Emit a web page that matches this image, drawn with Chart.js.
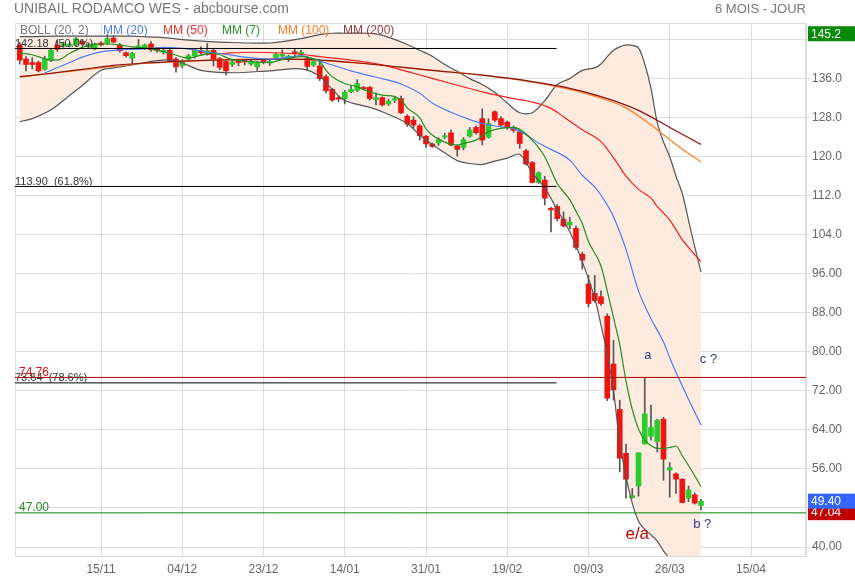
<!DOCTYPE html>
<html lang="fr">
<head>
  <meta charset="UTF-8" />
  <title>UNIBAIL RODAMCO WES - abcbourse.com</title>
  <script src="https://cdn.jsdelivr.net/npm/chart.js"></script>
  <style>
    body { margin: 0; background: #fff; font-family: "Liberation Sans", Arial, sans-serif; }
    #wrap { position: relative; width: 855px; height: 580px; }
    #title { position: absolute; left: 14px; top: 0; font-size: 14px; line-height: 17px; color: #777; }
    #period { position: absolute; right: 49px; top: 1px; font-size: 13px; line-height: 16px; color: #777; }
    canvas { position: absolute; left: 0; top: 0; }
  </style>
</head>
<body>
  <div id="wrap">
    <canvas id="chart" width="855" height="580"></canvas>
    <div id="title">UNIBAIL RODAMCO WES - abcbourse.com</div>
    <div id="period">6 MOIS - JOUR</div>
  </div>

  <script>
    // bougies journalières, index 0 = 29/10
    const opens = [142.9,140.0,139.3,139.3,137.9,139.8,142.9,142.7,142.8,142.9,
      143.6,142.5,142.1,143.3,143.2,144.3,142.9,141.3,140.2,142.2,
      142.3,143.1,142.1,141.4,141.8,140.0,138.6,140.0,140.6,141.7,
      141.1,141.8,140.1,139.5,138.9,139.4,139.5,139.0,138.4,139.6,
      139.2,140.2,140.6,139.9,141.3,140.9,140.1,138.8,138.6,136.4,
      133.8,131.9,131.9,133.3,133.6,134.2,134.2,131.7,132.1,130.8,
      131.6,131.9,128.3,127.5,126.3,124.2,122.6,122.8,124.0,124.9,
      122.2,121.9,124.2,126.0,127.8,124.0,129.2,127.8,127.1,126.0,
      125.1,121.2,118.8,114.7,115.2,109.4,109.8,107.2,106.0,105.3,
      100.0,93.9,92.0,91.3,87.3,77.5,68.2,59.2,50.1,52.5,
      61.1,62.7,61.6,66.2,55.8,55.0,53.9,50.0,50.7,48.5];
    const highs = [143.4,140.5,140.3,139.6,140.6,142.1,143.8,143.5,143.4,144.4,
      144.0,143.3,143.3,143.6,145.0,144.8,143.2,141.5,141.4,144.0,
      143.1,143.6,142.4,142.0,142.0,140.3,139.9,141.0,142.0,142.5,
      143.2,142.0,140.3,139.8,139.9,139.8,139.8,139.9,139.5,139.9,
      139.8,141.3,141.9,140.8,142.0,141.8,140.5,139.8,139.8,136.8,
      134.0,132.4,133.6,134.4,135.8,134.4,134.4,133.1,132.3,131.8,
      132.4,132.4,128.6,128.2,126.6,124.4,122.8,123.9,124.8,125.5,
      122.4,123.9,126.0,126.3,129.8,127.8,129.4,128.2,127.3,126.3,
      125.4,121.5,119.0,116.9,116.0,109.6,110.2,108.7,107.6,105.8,
      100.4,95.7,95.7,92.5,87.8,82.4,70.1,61.1,52.0,59.3,
      74.8,69.1,66.2,66.6,57.3,55.2,54.0,52.5,51.1,49.8];
    const lows = [139.0,137.6,138.0,137.4,137.7,139.5,141.6,142.4,142.5,142.7,
      142.8,142.2,141.9,142.7,143.0,143.3,141.4,140.4,139.0,142.0,
      142.0,141.6,141.4,141.0,139.4,137.3,138.2,139.8,140.2,141.0,
      140.8,138.6,137.8,136.7,138.5,138.6,138.8,138.7,137.7,139.0,
      138.7,140.0,140.4,139.5,140.5,140.6,137.7,138.5,135.6,133.0,
      131.3,131.3,130.8,133.1,133.3,133.7,131.6,130.6,130.4,130.5,
      131.1,128.8,126.2,125.8,123.4,121.9,121.9,122.3,123.7,122.2,
      120.1,121.4,124.0,124.6,122.4,123.8,127.2,126.3,125.6,125.0,
      121.7,118.3,114.6,114.5,110.1,104.6,106.8,105.6,105.2,101.0,
      97.0,89.2,90.2,89.5,70.0,70.1,55.4,50.0,50.0,50.4,
      61.1,61.9,59.5,53.7,50.2,51.0,49.1,49.3,48.8,47.6];
    const closes = [139.8,138.9,138.9,137.6,140.1,141.8,142.0,143.2,143.1,144.2,
      143.1,142.9,143.1,142.9,144.2,143.5,141.7,140.7,141.2,142.7,
      142.9,141.9,141.7,141.8,139.7,138.4,139.6,140.7,141.8,141.3,
      141.7,140.0,138.3,137.6,139.4,139.3,139.4,139.5,139.3,139.5,
      139.5,141.0,141.0,140.6,141.2,141.4,138.5,139.5,136.0,133.5,
      131.6,131.8,133.2,133.8,135.0,133.9,131.9,132.1,130.6,131.4,
      131.9,129.0,126.7,126.5,124.3,122.6,122.1,123.5,124.3,122.4,
      121.5,123.5,125.5,124.9,123.4,126.8,127.5,126.5,126.0,125.4,
      122.7,118.5,114.7,116.7,111.5,109.1,107.3,105.8,106.6,101.4,
      98.8,89.9,90.5,89.9,70.5,72.2,58.2,53.9,50.5,59.3,
      67.3,64.5,66.0,58.0,56.3,53.9,49.1,51.7,49.0,49.4];

    // bandes de Bollinger (20, 2)
    const bollIdx = [0,2,5,8,10,13,15,18,20,22,24,26,29,34,40,45,48,50,52,56,58,62,64,66,68,70,72,74,76,78,80,82,84,86,88,90,92,93,94,95,96,97,98,99,100,101,102,103,104,105,106,107,108,109];
    const bollUpper = [144.6,144.6,144.7,144.7,144.7,144.7,144.7,144.7,144.6,144.5,144.3,144.0,143.7,143.4,143.3,144.2,145.0,145.3,145.3,145.3,144.9,143.0,141.8,140.6,138.9,137.5,136.0,134.8,133.2,131.0,129.0,129.0,131.5,134.8,136.0,137.7,138.2,139.0,140.5,141.8,142.5,142.9,142.8,142.3,139.0,134.0,127.0,123.0,120.0,116.0,112.5,107.0,101.5,96.4];
    const bollLower = [127.2,127.8,129.6,132.6,134.6,137.7,138.2,138.8,139.3,139.7,139.8,139.2,137.7,137.2,137.6,138.0,136.5,133.8,131.5,130.1,129.2,126.8,124.4,122.5,120.8,119.2,118.6,118.4,119.1,119.7,120.5,116.7,113.6,109.1,104.6,98.5,91.0,85.5,79.5,72.0,61.5,54.5,49.0,45.3,43.6,42.5,41.2,39.2,37.5,35.8,34.2,32.8,31.5,30.3];

    // moyennes mobiles
    const mm7Idx = [0,2,5,6,8,10,12,14,16,18,21,24,27,29,31,34,37,40,42,45,47,48,49,50,52,54,56,58,60,61,62,64,65,67,70,71,73,75,77,79,80,82,84,86,88,89,90,91,93,94,95,96,97,98,99,100,101,102,103,104,105,106,107,108,109];
    const mm7 = [141.3,140.9,139.8,139.8,141.2,142.4,143.1,143.1,142.9,142.5,142.1,141.2,140.2,140.8,141.2,139.9,139.5,139.3,139.9,140.5,140.1,139.5,137.7,136.4,135.0,134.3,133.3,132.6,132.3,131.6,130.0,128.0,125.7,123.6,122.4,122.7,123.4,125.1,125.8,126.0,125.6,123.4,120.0,114.5,111.2,108.8,106.3,102.6,97.6,92.5,87.0,81.5,74.0,68.2,64.2,61.9,60.8,60.2,60.2,60.4,60.7,58.7,56.7,54.6,52.4];
    const mm20Idx = [4,5,8,10,13,16,18,21,23,26,29,31,34,36,40,43,45,47,50,53,56,58,61,64,66,69,72,74,77,79,81,83,85,88,90,92,93,95,97,99,101,103,104,105,107,109];
    const mm20 = [137.2,137.7,139.3,140.4,141.5,141.9,142.0,142.2,142.4,142.2,141.7,141.3,140.8,140.4,140.0,140.4,140.7,140.0,138.8,137.6,136.6,136.0,134.9,133.0,131.0,129.1,127.6,126.8,126.1,125.8,124.5,122.8,121.5,119.3,116.2,113.8,112.1,107.7,101.0,92.5,86.8,82.0,78.8,75.8,70.3,65.0];
    const mm50Idx = [29,33,37,41,45,48,53,58,63,69,74,79,82,85,87,90,93,95,97,99,101,102,104,106,109];
    const mm50 = [140.9,141.2,141.4,141.3,141.0,140.5,139.8,138.8,137.1,135.0,133.3,131.9,131.2,129.9,128.2,125.5,123.1,119.8,116.0,113.3,111.5,109.8,107.0,103.0,98.5];
    const mm100Idx = [0,10,20,31,42,55,66,74,82,88,93,97,101,105,109];
    const mm100 = [136.3,137.8,139.1,139.8,140.0,139.1,137.7,136.7,135.3,133.8,132.0,130.0,126.5,122.5,118.9];
    const mm200Idx = [0,5,10,15,20,26,31,37,42,47,55,66,74,82,87,93,99,104,109];
    const mm200 = [136.4,137.1,137.9,138.7,139.2,139.6,139.8,139.9,140.0,139.9,139.1,137.7,136.7,135.4,134.3,132.3,129.5,126.0,122.5];

    // niveaux tracés
    const fibLevels = [142.18, 113.90, 73.64];
    const fibTexts = ['142.18  (50.0%)', '113.90  (61.8%)', '73.64  (78.6%)'];
    const supportLevels = [74.76, 47.00];
    const supportTexts = ['74.76', '47.00'];
    const priceTags = [145.2, 47.04, 49.40];
    const priceTagTexts = ['145.2', '47.04', '49.40'];
    const waveTexts = ['a', 'c ?', 'b ?', 'e/a'];

    // axes
    const xTickIdx = [13, 26, 39, 52, 65, 78, 91, 104, 117];
    const xTickLabels = ['15/11', '04/12', '23/12', '14/01', '31/01', '19/02', '09/03', '26/03', '15/04'];
    const yTicks = [40, 48, 56, 64, 72, 80, 88, 96, 104, 112, 120, 128, 136, 144];
    const legendTexts = ['BOLL (20, 2)', 'MM (20)', 'MM (50)', 'MM (7)', 'MM (100)', 'MM (200)'];

    const X_MIN = -0.76, X_MAX = 125.8, FIB_END = 85.9;
    const GREEN = '#2ccc2c', RED = '#ee1511';
    const legendStyle = [
      { x: 20, color: '#777' }, { x: 103, color: '#4a7cf0' }, { x: 163, color: '#ee3030' },
      { x: 222, color: '#229a22' }, { x: 278, color: '#ff7a22' }, { x: 343, color: '#9a3a3a' }
    ];
    const fibColor = '#000', supportColors = ['#aa0000', '#008a00'];
    const tagColors = ['#078a07', '#c00000', '#3366ff'];
    const wavePos = [
      { i: 100.5, v: 79.3, color: '#333399', size: 13 },
      { i: 110.2, v: 78.5, color: '#333399', size: 13 },
      { i: 109.2, v: 44.6, color: '#333399', size: 13 },
      { i: 98.8, v: 42.6, color: '#cc0000', size: 17 }
    ];

    const pts = (idx, vals) => idx.map((x, k) => ({ x, y: vals[k] }));
    const candleIdx = opens.map((_, i) => i);
    const isUp = candleIdx.map(i => closes[i] >= opens[i]);

    const lineDs = (label, idx, vals, color, order, extra) => Object.assign({
      type: 'line', label, data: pts(idx, vals), borderColor: color, borderWidth: 1.2,
      pointRadius: 0, fill: false, cubicInterpolationMode: 'monotone', order
    }, extra || {});
    const levelDs = (v, x1, color) => ({
      type: 'line', data: [{ x: X_MIN, y: v }, { x: x1, y: v }], borderColor: color,
      borderWidth: 1, pointRadius: 0, fill: false, order: 1
    });

    const texts = {
      id: 'texts',
      beforeDatasetsDraw(chart) {
        const { ctx, chartArea: a } = chart;
        ctx.save();
        ctx.strokeStyle = '#dcdcdc';
        ctx.lineWidth = 1;
        ctx.strokeRect(a.left + 0.5, a.top + 0.5, a.width - 1, a.height);
        ctx.restore();
      },
      afterDatasetsDraw(chart) {
        const { ctx, chartArea: a, scales: { x, y } } = chart;
        ctx.save();
        ctx.textBaseline = 'middle';
        ctx.font = '12px "Liberation Sans", Arial, sans-serif';
        legendTexts.forEach((t, k) => {
          ctx.fillStyle = legendStyle[k].color;
          ctx.fillText(t, legendStyle[k].x, 31);
        });
        ctx.textBaseline = 'bottom';
        ctx.font = '11px "Liberation Sans", Arial, sans-serif';
        fibLevels.forEach((v, k) => {
          ctx.fillStyle = '#333';
          ctx.fillText(fibTexts[k], a.left, y.getPixelForValue(v) + 1);
        });
        ctx.font = '12px "Liberation Sans", Arial, sans-serif';
        supportLevels.forEach((v, k) => {
          ctx.fillStyle = supportColors[k] === '#aa0000' ? '#dd1111' : '#228b22';
          ctx.fillText(supportTexts[k], a.left + 4, y.getPixelForValue(v) + 1);
        });
        ctx.textBaseline = 'middle';
        ctx.textAlign = 'center';
        waveTexts.forEach((t, k) => {
          const p = wavePos[k];
          ctx.font = p.size + 'px "Liberation Sans", Arial, sans-serif';
          ctx.fillStyle = p.color;
          ctx.fillText(t, x.getPixelForValue(p.i), y.getPixelForValue(p.v));
        });
        ctx.restore();
      },
      afterDraw(chart) {
        const { ctx, chartArea: a, scales: { y } } = chart;
        ctx.save();
        ctx.font = '12px "Liberation Sans", Arial, sans-serif';
        ctx.textBaseline = 'middle';
        priceTags.forEach((v, k) => {
          const cy = y.getPixelForValue(v);
          ctx.fillStyle = tagColors[k];
          ctx.fillRect(a.right + 2, cy - 7.5, 47, 15);
          ctx.fillStyle = '#fff';
          ctx.fillText(priceTagTexts[k], a.right + 5, cy + 0.5);
        });
        ctx.restore();
      }
    };

    const ctx = document.getElementById('chart').getContext('2d');
    const chart = new Chart(ctx, {
      type: 'line',
      data: {
        datasets: [
          lineDs('BOLL haut', bollIdx, bollUpper, '#555', 6, { fill: '+1', backgroundColor: '#fdebe0', tension: 0.3, cubicInterpolationMode: 'default' }),
          lineDs('BOLL bas', bollIdx, bollLower, '#555', 6, { tension: 0.3, cubicInterpolationMode: 'default' }),
          {
            type: 'bar', label: 'mèches', data: candleIdx.map(i => ({ x: i, y: [lows[i], highs[i]] })),
            backgroundColor: '#555', barThickness: 1, grouped: false, order: 20
          },
          {
            type: 'bar', label: 'corps', data: candleIdx.map(i => ({ x: i, y: [opens[i], closes[i]] })),
            backgroundColor: isUp.map(u => u ? GREEN : RED), barThickness: 5, minBarLength: 1.5,
            grouped: false, order: 19
          },
          lineDs('MM (200)', mm200Idx, mm200, '#8b1010', 4),
          lineDs('MM (100)', mm100Idx, mm100, '#ff7f24', 5),
          lineDs('MM (50)', mm50Idx, mm50, '#f22020', 4),
          lineDs('MM (20)', mm20Idx, mm20, '#4a7cf0', 3),
          lineDs('MM (7)', mm7Idx, mm7, '#1f8f1f', 2),
          ...fibLevels.map(v => levelDs(v, FIB_END, fibColor)),
          ...supportLevels.map((v, k) => levelDs(v, X_MAX, supportColors[k]))
        ]
      },
      options: {
        responsive: false,
        animation: false,
        layout: { padding: { left: 15, top: 23, right: 0, bottom: 0 } },
        plugins: {
          legend: { display: false },
          tooltip: { enabled: false },
          filler: { drawTime: 'beforeDatasetsDraw' }
        },
        scales: {
          x: {
            type: 'linear', min: X_MIN, max: X_MAX, offset: false,
            afterBuildTicks: s => { s.ticks = xTickIdx.map(v => ({ value: v })); },
            afterFit: s => { s.height = 24; },
            ticks: {
              autoSkip: false, maxRotation: 0, padding: 6, color: '#666',
              font: { size: 12, family: '"Liberation Sans", Arial, sans-serif' },
              callback: v => xTickLabels[xTickIdx.indexOf(v)]
            },
            grid: { color: '#dcdcdc', drawTicks: false, offset: false },
            border: { color: '#dcdcdc' }
          },
          y: {
            type: 'linear', position: 'right', min: 38.16, max: 147.4,
            afterBuildTicks: s => { s.ticks = yTicks.map(v => ({ value: v })); },
            afterFit: s => { s.width = 49; },
            ticks: {
              autoSkip: false, padding: 2, color: '#666',
              font: { size: 12, family: '"Liberation Sans", Arial, sans-serif' },
              callback: v => (v === 48 || v === 144) ? '' : (v >= 100 ? v.toFixed(1) : v.toFixed(2))
            },
            grid: { color: '#dcdcdc', tickLength: 4 },
            border: { color: '#dcdcdc' }
          }
        }
      },
      plugins: [texts]
    });
  </script>
</body>
</html>
